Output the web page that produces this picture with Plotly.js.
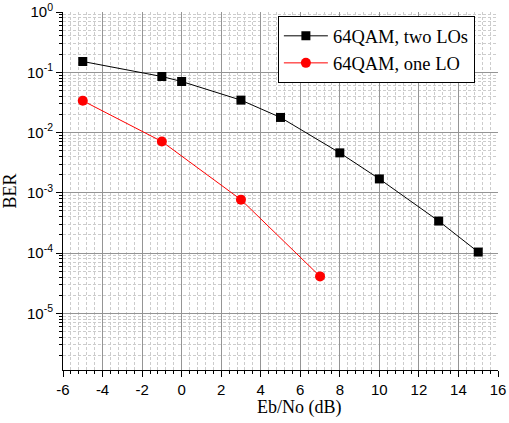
<!DOCTYPE html>
<html>
<head>
<meta charset="utf-8">
<script src="https://cdn.plot.ly/plotly-3.0.1.min.js"></script>
<style>html,body{margin:0;padding:0;background:#fff;}#chart{width:509px;height:423px;}</style>
</head>
<body>
<div id="chart"></div>
<script>
// Data
var ebnoTwoLOs = [-5, -1, 0, 3, 5, 8, 10, 13, 15];
var berTwoLOs  = [0.151, 0.085, 0.0703, 0.0345, 0.0178, 0.0046, 0.0017, 0.00034, 0.000104];
var ebnoOneLO  = [-5, -1, 3, 7];
var berOneLO   = [0.0337, 0.0071, 0.00077, 0.000041];
var nameTwoLOs = "64QAM, two LOs";
var nameOneLO  = "64QAM, one LO";
var yTickVals  = [1, 0.1, 0.01, 0.001, 0.0001, 0.00001];
var yTickText  = ["10<sup>0</sup>", "10<sup>-1</sup>", "10<sup>-2</sup>", "10<sup>-3</sup>", "10<sup>-4</sup>", "10<sup>-5</sup>"];
var xTickVals  = [-6, -4, -2, 0, 2, 4, 6, 8, 10, 12, 14, 16];
var xTickText  = ["-6", "-4", "-2", "0", "2", "4", "6", "8", "10", "12", "14", "16"];
var xTitle = "Eb/No (dB)";
var yTitle = "BER";

// minor tick positions (log decades 2..9, linear every 0.4)
var yMinor = [];
for (var e = -6; e < 0; e++) { for (var d = 2; d <= 9; d++) { yMinor.push(d * Math.pow(10, e)); } }
var xMinor = [];
for (var i = 0; i <= 55; i++) { var v = -6 + i * 0.4; if (Math.abs(Math.round(v / 2) * 2 - v) > 1e-6) xMinor.push(+v.toFixed(2)); }

var serif = "Liberation Serif, Times New Roman, serif";
var sans = "Liberation Sans, Arial, sans-serif";

var traces = [
  {x: ebnoTwoLOs, y: berTwoLOs, name: nameTwoLOs, type: "scatter", mode: "lines+markers",
   line: {color: "#000000", width: 1}, marker: {symbol: "square", size: 9, color: "#000000"}},
  {x: ebnoOneLO, y: berOneLO, name: nameOneLO, type: "scatter", mode: "lines+markers",
   line: {color: "#ff0000", width: 1}, marker: {symbol: "circle", size: 10, color: "#ff0000"}}
];

var minorStyle = {ticks: "outside", ticklen: 3, tickcolor: "#000000",
                  showgrid: true, gridcolor: "#cccccc", griddash: "3px,2px", gridwidth: 1};

var layout = {
  width: 509, height: 423,
  margin: {l: 63, r: 11, t: 12, b: 53},
  paper_bgcolor: "#ffffff", plot_bgcolor: "#ffffff",
  showlegend: true,
  legend: {x: 0.494, y: 0.988, xanchor: "left", yanchor: "top",
           bordercolor: "#000000", borderwidth: 1, bgcolor: "#ffffff", itemwidth: 44,
           font: {family: serif, size: 18.5, color: "#000000"}, tracegroupgap: 0},
  xaxis: {
    range: [-6, 16], tickmode: "array", tickvals: xTickVals, ticktext: xTickText,
    showline: true, linecolor: "#000000", linewidth: 1,
    ticks: "outside", ticklen: 6, tickwidth: 1, tickcolor: "#000000",
    showgrid: true, gridcolor: "#959595", gridwidth: 1, zeroline: false,
    tickfont: {family: sans, size: 15, color: "#000000"},
    minor: Object.assign({tickmode: "array", tickvals: xMinor}, minorStyle)
  },
  yaxis: {
    type: "log", range: [-5.94, 0], tickmode: "array", tickvals: yTickVals, ticktext: yTickText,
    showline: true, linecolor: "#000000", linewidth: 1,
    ticks: "outside", ticklen: 6, tickwidth: 1, tickcolor: "#000000",
    showgrid: true, gridcolor: "#959595", gridwidth: 1, zeroline: false,
    tickfont: {family: sans, size: 15, color: "#000000"},
    title: {text: yTitle, font: {family: serif, size: 18, color: "#000000"}, standoff: 6},
    minor: Object.assign({tickmode: "array", tickvals: yMinor}, minorStyle)
  },
  annotations: [
    {text: xTitle, xref: "paper", yref: "paper", x: 0.543, y: -0.105, xanchor: "center", yanchor: "middle",
     showarrow: false, font: {family: serif, size: 18, color: "#000000"}}
  ]
};

Plotly.newPlot("chart", traces, layout, {displayModeBar: false, staticPlot: true});
</script>
</body>
</html>
